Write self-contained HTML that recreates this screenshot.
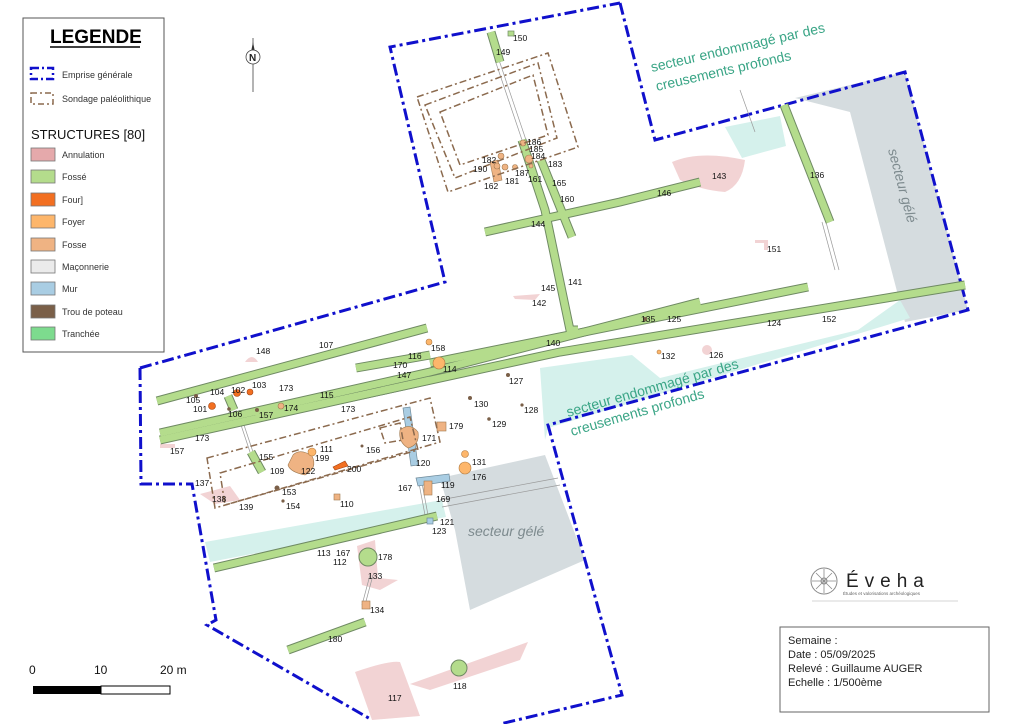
<!DOCTYPE html>
<html><head><meta charset="utf-8"><style>
html,body{margin:0;padding:0;background:#fff;}
svg{display:block;font-family:"Liberation Sans","DejaVu Sans",sans-serif;}
.l{font-size:8.5px;fill:#111;}
</style></head><body>
<svg width="1024" height="724" viewBox="0 0 1024 724" xmlns="http://www.w3.org/2000/svg">
<rect width="1024" height="724" fill="#fff"/>
<polygon points="440,478 545,455 585,560 470,610 455,530" fill="#d5dcdf"/>
<polygon points="795,98 905,72 968,310 905,322 850,112" fill="#d5dcdf"/>
<polygon points="205,542 442,500 446,517 210,562" fill="#d5f1ec"/>
<polygon points="540,368 632,355 660,378 858,330 900,300 910,318 548,428 545,440" fill="#d5f1ec"/>
<polygon points="725,127 780,116 786,146 742,158" fill="#d5f1ec"/>
<path d="M672,162 Q700,150 745,160 Q742,185 725,192 Q700,190 680,180 Z" fill="#f2d3d4"/>
<path d="M355,672 Q390,660 400,662 L420,716 L372,720 Z" fill="#f2d3d4"/>
<path d="M410,684 L528,642 L520,660 L430,690 Z" fill="#f2d3d4"/>
<path d="M357,546 L375,540 L378,578 L398,580 L380,590 L362,585 Z" fill="#f2d3d4"/>
<path d="M200,494 L230,486 L240,500 L215,504 Z" fill="#f2d3d4"/>
<path d="M245,362 Q252,352 258,362 Z" fill="#f2d3d4"/>
<path d="M513,296 L540,294 L535,300 L515,299 Z" fill="#f2d3d4"/>
<path d="M755,240 L768,240 L768,250 L764,250 L764,243 L755,243 Z" fill="#f2d3d4"/>
<circle cx="707" cy="350" r="5" fill="#f2d3d4"/>
<rect x="160" y="444" width="15" height="4" fill="#f2d3d4"/>
<polyline points="140,368 445,282 390,47 620,3" fill="none" stroke="#1010cc" stroke-width="3" stroke-dasharray="12,4,3,4"/>
<polyline points="620,3 655,140 905,72 968,310 548,425 622,695 500,724" fill="none" stroke="#1010cc" stroke-width="3" stroke-dasharray="12,4,3,4"/>
<polyline points="140,368 141,484 192,484 216,620 207,625 372,720" fill="none" stroke="#1010cc" stroke-width="3" stroke-dasharray="12,4,3,4"/>
<g stroke="#999" stroke-width="0.7" fill="none">
<line x1="495" y1="60" x2="522" y2="140"/><line x1="499" y1="60" x2="526" y2="140"/>
<line x1="740" y1="90" x2="755" y2="132"/>
<line x1="822" y1="222" x2="835" y2="270"/><line x1="826" y1="222" x2="839" y2="270"/>
<line x1="236" y1="410" x2="250" y2="452"/><line x1="239" y1="410" x2="253" y2="452"/>
<line x1="440" y1="500" x2="558" y2="478"/><line x1="442" y1="507" x2="560" y2="485"/>
<line x1="418" y1="478" x2="425" y2="515"/><line x1="421" y1="478" x2="428" y2="515"/>
<line x1="370" y1="575" x2="362" y2="605"/><line x1="373" y1="575" x2="365" y2="605"/>
</g>
<g stroke-linecap="butt" fill="none">
<g stroke="#6f8a63" stroke-width="9">
<polyline points="157,401 427,328"/>
<polyline points="160,433 430,372 700,302"/>
<polyline points="160,440 430,380"/>
<polyline points="256,418 560,352 965,285"/>
<polyline points="356,368 430,355"/>
<polyline points="430,363 808,287"/>
<polyline points="522,140 545,210 570,330 578,330"/>
<polyline points="541,160 572,237"/>
<polyline points="485,232 620,202 700,182"/>
<polyline points="491,32 500,62"/>
<polyline points="784,105 830,222"/>
<polyline points="251,452 262,472"/>
<polyline points="228,396 234,410"/>
<polyline points="288,650 365,622"/>
<polyline points="214,568 437,516"/>
</g>
<g stroke="#b4dc8c" stroke-width="7">
<polyline points="157,401 427,328"/>
<polyline points="160,433 430,372 700,302"/>
<polyline points="160,440 430,380"/>
<polyline points="256,418 560,352 965,285"/>
<polyline points="356,368 430,355"/>
<polyline points="430,363 808,287"/>
<polyline points="522,140 545,210 570,330 578,330"/>
<polyline points="541,160 572,237"/>
<polyline points="485,232 620,202 700,182"/>
<polyline points="491,32 500,62"/>
<polyline points="784,105 830,222"/>
<polyline points="251,452 262,472"/>
<polyline points="228,396 234,410"/>
<polyline points="288,650 365,622"/>
<polyline points="214,568 437,516"/>
</g>
</g>
<rect x="508" y="31" width="6" height="5" fill="#b4dc8c" stroke="#6f8a63" stroke-width="0.7"/>
<circle cx="368" cy="557" r="9" fill="#b4dc8c" stroke="#6f8a63"/>
<circle cx="459" cy="668" r="8" fill="#b4dc8c" stroke="#6f8a63"/>
<polygon points="403,408 410,407 418,465 411,466" fill="#a9cde3" stroke="#6f8a9a" stroke-width="0.7"/>
<polygon points="416,478 449,474 450,481 418,486" fill="#a9cde3" stroke="#6f8a9a" stroke-width="0.7"/>
<rect x="427" y="518" width="6" height="6" fill="#a9cde3" stroke="#6f8a9a" stroke-width="0.7"/>
<g fill="#efb383" stroke="#a07a50" stroke-width="0.6">
<path d="M293,455 Q300,448 312,456 Q318,468 305,475 Q290,472 288,465 Z"/>
<path d="M400,430 Q410,422 418,432 Q420,445 408,448 Q398,442 400,430 Z"/>
<rect x="437" y="422" width="9" height="9"/>
<rect x="424" y="481" width="8" height="14"/>
<rect x="334" y="494" width="6" height="6"/>
<rect x="362" y="601" width="8" height="8"/>
<path d="M490,162 L498,160 L502,180 L494,182 Z"/>
<circle cx="501" cy="156" r="3"/><circle cx="497" cy="166" r="3"/><circle cx="505" cy="167" r="3"/><circle cx="515" cy="167" r="2.5"/>
<circle cx="523" cy="143" r="3"/><circle cx="529" cy="159" r="4"/><circle cx="531" cy="166" r="2"/>
<circle cx="281" cy="406" r="3"/>
</g>
<g fill="#fdb66b" stroke="#b07a40" stroke-width="0.6">
<circle cx="439" cy="363" r="6"/><circle cx="429" cy="342" r="3"/>
<circle cx="465" cy="468" r="6"/><circle cx="465" cy="454" r="3.5"/>
<circle cx="312" cy="452" r="4"/><circle cx="659" cy="352" r="2"/>
</g>
<g fill="#f26f21" stroke="#a04010" stroke-width="0.6">
<circle cx="212" cy="406" r="3.5"/><circle cx="237" cy="393" r="3.5"/><circle cx="250" cy="392" r="3"/>
<polygon points="333,467 345,461 348,466 335,470"/>
</g>
<g fill="#7a5f48">
<circle cx="196" cy="396" r="2"/><circle cx="229" cy="409" r="1.8"/><circle cx="257" cy="410" r="2"/>
<circle cx="508" cy="375" r="2"/><circle cx="470" cy="398" r="2"/><circle cx="522" cy="405" r="1.6"/>
<circle cx="489" cy="419" r="1.8"/><circle cx="362" cy="446" r="1.5"/><circle cx="277" cy="488" r="2.5"/>
<circle cx="283" cy="501" r="1.6"/><circle cx="645" cy="319" r="2"/>
</g>
<g fill="none" stroke="#8b6a4e" stroke-width="1.5" stroke-dasharray="7,3,2,3">
<polygon points="417,97 548,53 578,147 448,192"/>
<polygon points="425,105 538,63 557,138 455,178"/>
<polygon points="440,112 533,75 548,135 460,165"/>
<polygon points="207,458 430,398 440,442 215,508"/>
<polygon points="220,473 410,417 418,450 225,505"/>
<polygon points="380,428 400,423 403,440 385,443"/>
</g>
<g class="l">
<text x="513" y="41">150</text><text x="496" y="55">149</text>
<text x="527" y="145">186</text><text x="529" y="152">185</text><text x="531" y="159">184</text>
<text x="548" y="167">183</text><text x="482" y="163">182</text><text x="473" y="172">190</text>
<text x="515" y="176">187</text><text x="528" y="182">161</text><text x="505" y="184">181</text>
<text x="484" y="189">162</text><text x="552" y="186">165</text><text x="560" y="202">160</text>
<text x="657" y="196">146</text><text x="712" y="179">143</text><text x="531" y="227">144</text>
<text x="810" y="178">136</text><text x="767" y="252">151</text><text x="541" y="291">145</text>
<text x="568" y="285">141</text><text x="532" y="306">142</text><text x="641" y="322">135</text>
<text x="667" y="322">125</text><text x="767" y="326">124</text><text x="822" y="322">152</text>
<text x="546" y="346">140</text><text x="661" y="359">132</text><text x="709" y="358">126</text>
<text x="256" y="354">148</text><text x="319" y="348">107</text><text x="431" y="351">158</text>
<text x="408" y="359">116</text><text x="393" y="368">170</text><text x="397" y="378">147</text>
<text x="443" y="372">114</text><text x="509" y="384">127</text><text x="186" y="403">105</text>
<text x="210" y="395">104</text><text x="231" y="393">102</text><text x="252" y="388">103</text>
<text x="279" y="391">173</text><text x="193" y="412">101</text><text x="228" y="417">106</text>
<text x="259" y="418">157</text><text x="284" y="411">174</text><text x="320" y="398">115</text>
<text x="341" y="412">173</text><text x="474" y="407">130</text><text x="524" y="413">128</text>
<text x="492" y="427">129</text><text x="449" y="429">179</text><text x="195" y="441">173</text>
<text x="170" y="454">157</text><text x="422" y="441">171</text><text x="320" y="452">111</text>
<text x="315" y="461">199</text><text x="366" y="453">156</text><text x="259" y="460">155</text>
<text x="270" y="474">109</text><text x="301" y="474">122</text><text x="347" y="472">200</text>
<text x="416" y="466">120</text><text x="472" y="465">131</text><text x="472" y="480">176</text>
<text x="195" y="486">137</text><text x="398" y="491">167</text><text x="441" y="488">119</text>
<text x="436" y="502">169</text><text x="282" y="495">153</text><text x="212" y="502">138</text>
<text x="239" y="510">139</text><text x="286" y="509">154</text><text x="340" y="507">110</text>
<text x="440" y="525">121</text><text x="432" y="534">123</text><text x="317" y="556">113</text>
<text x="336" y="556">167</text><text x="333" y="565">112</text><text x="378" y="560">178</text>
<text x="368" y="579">133</text><text x="370" y="613">134</text><text x="328" y="642">180</text>
<text x="453" y="689">118</text><text x="388" y="701">117</text>
</g>
<g fill="#3aa586" font-size="14">
<text transform="translate(652,72) rotate(-13)">secteur endommagé par des</text>
<text transform="translate(657,91) rotate(-13)">creusements profonds</text>
<text transform="translate(568,417) rotate(-16)">secteur endommagé par des</text>
<text transform="translate(572,436) rotate(-16)">creusements profonds</text>
</g>
<g fill="#7d8a8e" font-size="14" font-style="italic">
<text x="468" y="536">secteur gélé</text>
<text transform="translate(888,150) rotate(75)">secteur gélé</text>
</g>
<g>
<line x1="253" y1="38" x2="253" y2="92" stroke="#444" stroke-width="0.8"/>
<polygon points="253,42 256,57 253,55 250,57" fill="#333"/>
<circle cx="253" cy="57" r="7" fill="#fff" stroke="#444" stroke-width="0.8"/>
<text x="249" y="61" font-size="10" font-weight="bold" fill="#222">N</text>
</g>
<rect x="23" y="18" width="141" height="334" fill="#fff" stroke="#555" stroke-width="1"/>
<text x="50" y="43" font-size="19" font-weight="bold" fill="#000">LEGENDE</text>
<line x1="50" y1="47" x2="140" y2="47" stroke="#000" stroke-width="1.5"/>
<rect x="31" y="68" width="22" height="11" fill="none" stroke="#1010cc" stroke-width="2.5" stroke-dasharray="8,3,2,3"/>
<text x="62" y="78" font-size="9" fill="#333">Emprise générale</text>
<rect x="31" y="93" width="22" height="11" fill="none" stroke="#8b6a4e" stroke-width="1.5" stroke-dasharray="6,3,2,3"/>
<text x="62" y="102" font-size="9" fill="#333">Sondage paléolithique</text>
<text x="31" y="139" font-size="13" fill="#111">STRUCTURES [80]</text>
<g stroke="#777" stroke-width="0.8" font-size="9">
<rect x="31" y="148" width="24" height="13" fill="#e5a9ab"/><text x="62" y="158" fill="#333" stroke="none">Annulation</text>
<rect x="31" y="170" width="24" height="13" fill="#b4dc8c"/><text x="62" y="180" fill="#333" stroke="none">Fossé</text>
<rect x="31" y="193" width="24" height="13" fill="#f26f21"/><text x="62" y="203" fill="#333" stroke="none">Four]</text>
<rect x="31" y="215" width="24" height="13" fill="#fdb66b"/><text x="62" y="225" fill="#333" stroke="none">Foyer</text>
<rect x="31" y="238" width="24" height="13" fill="#efb383"/><text x="62" y="248" fill="#333" stroke="none">Fosse</text>
<rect x="31" y="260" width="24" height="13" fill="#ebebeb"/><text x="62" y="270" fill="#333" stroke="none">Maçonnerie</text>
<rect x="31" y="282" width="24" height="13" fill="#a9cde3"/><text x="62" y="292" fill="#333" stroke="none">Mur</text>
<rect x="31" y="305" width="24" height="13" fill="#7a5f48"/><text x="62" y="315" fill="#333" stroke="none">Trou de poteau</text>
<rect x="31" y="327" width="24" height="13" fill="#7ddb8e"/><text x="62" y="337" fill="#333" stroke="none">Tranchée</text>
</g>
<text x="29" y="674" font-size="12" fill="#111">0</text>
<text x="94" y="674" font-size="12" fill="#111">10</text>
<text x="160" y="674" font-size="12" fill="#111">20 m</text>
<rect x="33" y="686" width="68" height="8" fill="#000"/>
<rect x="101" y="686" width="69" height="8" fill="#fff" stroke="#000"/>
<circle cx="824" cy="581" r="13" fill="none" stroke="#888" stroke-width="1"/>
<circle cx="824" cy="581" r="3" fill="none" stroke="#888"/>
<g stroke="#888" stroke-width="0.8"><line x1="824" y1="569" x2="824" y2="593"/><line x1="812" y1="581" x2="836" y2="581"/><line x1="816" y1="573" x2="832" y2="589"/><line x1="832" y1="573" x2="816" y2="589"/></g>
<text x="846" y="587" font-size="19" fill="#222" letter-spacing="6">Éveha</text>
<text x="843" y="595" font-size="4.5" fill="#666">Études et valorisations archéologiques</text>
<line x1="812" y1="601" x2="958" y2="601" stroke="#aaa" stroke-width="0.6"/>
<rect x="780" y="627" width="209" height="85" fill="#fff" stroke="#666" stroke-width="1"/>
<g font-size="11" fill="#222">
<text x="788" y="644">Semaine :</text>
<text x="788" y="658">Date : 05/09/2025</text>
<text x="788" y="672">Relevé : Guillaume AUGER</text>
<text x="788" y="686">Echelle : 1/500ème</text>
</g>
</svg>
</body></html>
